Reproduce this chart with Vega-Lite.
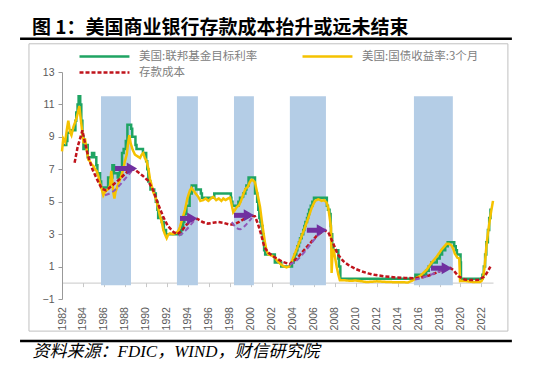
{
  "$schema": "https://vega.github.io/schema/vega-lite/v6.json",
  "width": 431,
  "height": 227,
  "autosize": {"type": "none"},
  "padding": {"left": 62, "top": 72, "right": 40, "bottom": 72},
  "background": "white",
  "title": {"text": "图 1：美国商业银行存款成本抬升或远未结束", "anchor": "start", "frame": "group", "dx": -30, "dy": 1, "fontSize": 19, "font": "Noto Sans CJK SC", "fontWeight": "bold", "color": "#000000", "offset": 1},
  "config": {"view": {"stroke": null}, "axis": {"labelOverlap": false}},
  "datasets": {
    "bands": [
      {"s": 1985.72, "e": 1988.58},
      {"s": 1992.96, "e": 1994.96},
      {"s": 1998.4, "e": 2000.3},
      {"s": 2003.73, "e": 2007.17},
      {"s": 2015.56, "e": 2019.27}
    ],
    "green": [
      {"t":1982.0,"v":8.5},{"t":1982.409,"v":8.75},{"t":1982.511,"v":9.25},{"t":1982.818,"v":9.4},{"t":1983.278,"v":10.0},{"t":1983.36,"v":10.5},{"t":1983.483,"v":11.0},{"t":1983.585,"v":11.5},{"t":1983.738,"v":11.0},{"t":1983.841,"v":10.0},{"t":1983.943,"v":9.0},{"t":1984.045,"v":8.25},{"t":1984.198,"v":8.5},{"t":1984.454,"v":7.75},{"t":1984.863,"v":8.0},{"t":1985.068,"v":7.75},{"t":1985.272,"v":7.25},{"t":1985.374,"v":6.75},{"t":1985.63,"v":6.25},{"t":1985.732,"v":5.875},{"t":1986.397,"v":6.5},{"t":1986.806,"v":7.25},{"t":1986.959,"v":6.75},{"t":1987.317,"v":6.5},{"t":1987.522,"v":7.0},{"t":1987.726,"v":8.0},{"t":1987.879,"v":8.25},{"t":1988.084,"v":8.75},{"t":1988.237,"v":9.75},{"t":1988.595,"v":9.5},{"t":1988.697,"v":9.0},{"t":1989.004,"v":8.5},{"t":1989.106,"v":8.25},{"t":1989.72,"v":8.0},{"t":1990.027,"v":7.5},{"t":1990.129,"v":7.0},{"t":1990.231,"v":6.25},{"t":1990.436,"v":5.75},{"t":1990.794,"v":5.5},{"t":1990.947,"v":5.0},{"t":1991.1,"v":4.5},{"t":1991.172,"v":4.0},{"t":1991.509,"v":3.75},{"t":1991.714,"v":3.25},{"t":1991.918,"v":3.0},{"t":1993.35,"v":3.25},{"t":1993.452,"v":3.5},{"t":1993.554,"v":3.75},{"t":1993.657,"v":4.25},{"t":1993.861,"v":4.75},{"t":1994.168,"v":5.5},{"t":1994.372,"v":6.0},{"t":1994.781,"v":5.75},{"t":1995.241,"v":5.5},{"t":1995.343,"v":5.25},{"t":1996.519,"v":5.5},{"t":1998.104,"v":5.25},{"t":1998.155,"v":5.0},{"t":1998.257,"v":4.75},{"t":1998.82,"v":5.0},{"t":1998.973,"v":5.25},{"t":1999.28,"v":5.5},{"t":1999.484,"v":5.75},{"t":1999.586,"v":6.0},{"t":1999.791,"v":6.5},{"t":2000.405,"v":5.5},{"t":2000.61,"v":5.0},{"t":2000.712,"v":4.5},{"t":2000.814,"v":4.0},{"t":2000.916,"v":3.75},{"t":2001.019,"v":3.5},{"t":2001.121,"v":3.0},{"t":2001.223,"v":2.5},{"t":2001.274,"v":2.0},{"t":2001.376,"v":1.75},{"t":2002.296,"v":1.25},{"t":2002.909,"v":1.0},{"t":2003.932,"v":1.25},{"t":2004.085,"v":1.5},{"t":2004.188,"v":1.75},{"t":2004.341,"v":2.0},{"t":2004.443,"v":2.25},{"t":2004.597,"v":2.5},{"t":2004.699,"v":2.75},{"t":2004.852,"v":3.0},{"t":2005.006,"v":3.25},{"t":2005.109,"v":3.5},{"t":2005.211,"v":3.75},{"t":2005.364,"v":4.0},{"t":2005.466,"v":4.25},{"t":2005.569,"v":4.5},{"t":2005.722,"v":4.75},{"t":2005.875,"v":5.0},{"t":2006.029,"v":5.25},{"t":2007.256,"v":4.75},{"t":2007.358,"v":4.5},{"t":2007.511,"v":4.25},{"t":2007.613,"v":3.5},{"t":2007.644,"v":3.0},{"t":2007.767,"v":2.25},{"t":2007.869,"v":2.0},{"t":2008.35,"v":1.5},{"t":2008.411,"v":1.0},{"t":2008.544,"v":0.25},{"t":2015.701,"v":0.5},{"t":2016.724,"v":0.75},{"t":2016.969,"v":1.0},{"t":2017.224,"v":1.25},{"t":2017.736,"v":1.5},{"t":2018.012,"v":1.75},{"t":2018.247,"v":2.0},{"t":2018.544,"v":2.25},{"t":2018.779,"v":2.5},{"t":2019.403,"v":2.25},{"t":2019.546,"v":2.0},{"t":2019.659,"v":1.75},{"t":2020.006,"v":1.25},{"t":2020.047,"v":0.25},{"t":2022.092,"v":0.5},{"t":2022.225,"v":1.0},{"t":2022.348,"v":1.75},{"t":2022.46,"v":2.5},{"t":2022.614,"v":3.25},{"t":2022.737,"v":4.0},{"t":2022.859,"v":4.5},{"t":2022.99,"v":4.5}
    ],
    "yellow": [
      {"t":1982.0,"v":8.1},{"t":1982.12,"v":8.9},{"t":1982.3,"v":8.7},{"t":1982.45,"v":9.4},{"t":1982.6,"v":10.0},{"t":1982.76,"v":9.3},{"t":1982.9,"v":9.1},{"t":1983.08,"v":9.6},{"t":1983.25,"v":9.9},{"t":1983.4,"v":10.2},{"t":1983.55,"v":10.6},{"t":1983.65,"v":10.9},{"t":1983.75,"v":10.3},{"t":1983.88,"v":9.6},{"t":1984.05,"v":8.6},{"t":1984.19,"v":8.9},{"t":1984.35,"v":8.2},{"t":1984.51,"v":7.6},{"t":1984.65,"v":7.5},{"t":1984.83,"v":7.3},{"t":1985.0,"v":7.2},{"t":1985.15,"v":7.0},{"t":1985.3,"v":6.9},{"t":1985.46,"v":6.6},{"t":1985.6,"v":6.2},{"t":1985.78,"v":5.8},{"t":1985.94,"v":5.4},{"t":1986.1,"v":5.6},{"t":1986.26,"v":5.7},{"t":1986.45,"v":5.8},{"t":1986.58,"v":6.0},{"t":1986.7,"v":6.9},{"t":1986.78,"v":6.4},{"t":1986.89,"v":5.6},{"t":1987.0,"v":5.2},{"t":1987.1,"v":5.6},{"t":1987.37,"v":6.1},{"t":1987.6,"v":6.5},{"t":1987.84,"v":7.0},{"t":1988.0,"v":7.5},{"t":1988.17,"v":7.9},{"t":1988.3,"v":8.6},{"t":1988.42,"v":9.1},{"t":1988.55,"v":8.6},{"t":1988.74,"v":8.2},{"t":1988.96,"v":7.9},{"t":1989.2,"v":7.8},{"t":1989.44,"v":7.7},{"t":1989.6,"v":7.9},{"t":1989.75,"v":8.0},{"t":1989.9,"v":7.7},{"t":1990.07,"v":7.5},{"t":1990.25,"v":7.0},{"t":1990.39,"v":6.4},{"t":1990.55,"v":6.0},{"t":1990.7,"v":5.6},{"t":1990.95,"v":5.2},{"t":1991.18,"v":4.6},{"t":1991.35,"v":4.1},{"t":1991.5,"v":3.8},{"t":1991.65,"v":3.3},{"t":1991.81,"v":3.0},{"t":1991.98,"v":2.75},{"t":1992.15,"v":3.0},{"t":1992.3,"v":3.05},{"t":1992.6,"v":3.0},{"t":1992.93,"v":3.1},{"t":1993.1,"v":3.2},{"t":1993.25,"v":3.45},{"t":1993.5,"v":4.0},{"t":1993.73,"v":4.5},{"t":1993.95,"v":5.2},{"t":1994.2,"v":5.7},{"t":1994.35,"v":5.85},{"t":1994.52,"v":5.7},{"t":1994.75,"v":5.5},{"t":1994.99,"v":5.3},{"t":1995.2,"v":5.05},{"t":1995.47,"v":5.1},{"t":1995.7,"v":5.2},{"t":1995.95,"v":5.05},{"t":1996.2,"v":5.2},{"t":1996.42,"v":5.3},{"t":1996.7,"v":5.1},{"t":1996.95,"v":5.2},{"t":1997.2,"v":5.05},{"t":1997.38,"v":5.2},{"t":1997.6,"v":5.1},{"t":1997.85,"v":5.2},{"t":1998.02,"v":5.25},{"t":1998.15,"v":4.9},{"t":1998.33,"v":4.35},{"t":1998.5,"v":4.5},{"t":1998.65,"v":4.65},{"t":1998.9,"v":4.8},{"t":1999.1,"v":5.1},{"t":1999.28,"v":5.45},{"t":1999.5,"v":5.8},{"t":1999.7,"v":5.9},{"t":1999.9,"v":6.2},{"t":2000.08,"v":6.35},{"t":2000.25,"v":6.3},{"t":2000.4,"v":6.2},{"t":2000.6,"v":5.6},{"t":2000.88,"v":4.7},{"t":2001.1,"v":3.6},{"t":2001.35,"v":2.5},{"t":2001.5,"v":2.0},{"t":2001.67,"v":1.75},{"t":2001.9,"v":1.7},{"t":2002.1,"v":1.65},{"t":2002.3,"v":1.55},{"t":2002.6,"v":1.3},{"t":2002.94,"v":1.1},{"t":2003.2,"v":1.0},{"t":2003.42,"v":0.95},{"t":2003.65,"v":1.0},{"t":2003.9,"v":1.3},{"t":2004.3,"v":1.95},{"t":2004.69,"v":2.6},{"t":2005.1,"v":3.3},{"t":2005.48,"v":4.0},{"t":2005.8,"v":4.6},{"t":2006.12,"v":5.05},{"t":2006.45,"v":5.15},{"t":2006.76,"v":5.05},{"t":2007.0,"v":5.1},{"t":2007.23,"v":4.95},{"t":2007.4,"v":4.6},{"t":2007.55,"v":3.9},{"t":2007.65,"v":3.4},{"t":2007.71,"v":0.6},{"t":2007.78,"v":1.6},{"t":2007.86,"v":2.1},{"t":2008.0,"v":1.7},{"t":2008.19,"v":1.0},{"t":2008.35,"v":0.5},{"t":2008.5,"v":0.15},{"t":2009.0,"v":0.15},{"t":2009.5,"v":0.12},{"t":2010.0,"v":0.14},{"t":2010.5,"v":0.1},{"t":2011.0,"v":0.05},{"t":2011.5,"v":0.06},{"t":2012.0,"v":0.09},{"t":2012.5,"v":0.07},{"t":2013.0,"v":0.05},{"t":2013.5,"v":0.04},{"t":2014.0,"v":0.03},{"t":2014.5,"v":0.03},{"t":2015.0,"v":0.02},{"t":2015.49,"v":0.16},{"t":2015.8,"v":0.3},{"t":2016.2,"v":0.45},{"t":2016.77,"v":0.8},{"t":2017.2,"v":1.2},{"t":2017.72,"v":1.6},{"t":2018.2,"v":2.05},{"t":2018.67,"v":2.4},{"t":2018.9,"v":2.4},{"t":2019.15,"v":2.3},{"t":2019.3,"v":2.1},{"t":2019.46,"v":1.8},{"t":2019.7,"v":1.55},{"t":2019.88,"v":1.5},{"t":2019.96,"v":0.1},{"t":2020.3,"v":0.12},{"t":2020.8,"v":0.08},{"t":2021.3,"v":0.04},{"t":2021.85,"v":0.05},{"t":2022.0,"v":0.1},{"t":2022.16,"v":0.3},{"t":2022.3,"v":1.0},{"t":2022.49,"v":2.4},{"t":2022.65,"v":3.2},{"t":2022.8,"v":3.9},{"t":2022.95,"v":4.5},{"t":2023.1,"v":5.05}
    ],
    "red": [
      {"t":1983.2,"v":7.4},{"t":1983.5,"v":8.4},{"t":1983.95,"v":9.4},{"t":1984.2,"v":8.6},{"t":1984.5,"v":7.8},{"t":1984.9,"v":7.0},{"t":1985.4,"v":6.3},{"t":1985.8,"v":5.8},{"t":1986.2,"v":5.7},{"t":1986.8,"v":6.0},{"t":1987.5,"v":6.4},{"t":1988.3,"v":6.9},{"t":1988.9,"v":7.0},{"t":1989.3,"v":6.8},{"t":1989.7,"v":6.6},{"t":1990.2,"v":6.3},{"t":1990.7,"v":5.7},{"t":1991.2,"v":4.8},{"t":1991.7,"v":4.0},{"t":1992.1,"v":3.5},{"t":1992.6,"v":3.15},{"t":1993.0,"v":3.0},{"t":1993.4,"v":3.2},{"t":1993.9,"v":3.6},{"t":1994.4,"v":3.85},{"t":1994.9,"v":3.95},{"t":1995.4,"v":3.75},{"t":1995.9,"v":3.65},{"t":1996.4,"v":3.7},{"t":1996.9,"v":3.75},{"t":1997.4,"v":3.7},{"t":1997.9,"v":3.6},{"t":1998.4,"v":3.6},{"t":1998.9,"v":3.75},{"t":1999.5,"v":4.0},{"t":2000.0,"v":4.15},{"t":2000.4,"v":4.1},{"t":2000.7,"v":3.6},{"t":2001.0,"v":2.95},{"t":2001.3,"v":2.2},{"t":2001.7,"v":1.85},{"t":2002.1,"v":1.65},{"t":2002.6,"v":1.45},{"t":2003.0,"v":1.3},{"t":2003.7,"v":1.15},{"t":2004.4,"v":1.5},{"t":2005.2,"v":2.1},{"t":2006.3,"v":2.9},{"t":2007.0,"v":3.25},{"t":2007.4,"v":3.1},{"t":2007.85,"v":2.45},{"t":2008.3,"v":1.75},{"t":2008.8,"v":1.35},{"t":2009.3,"v":1.1},{"t":2010.0,"v":0.85},{"t":2010.6,"v":0.7},{"t":2011.2,"v":0.58},{"t":2011.8,"v":0.49},{"t":2012.8,"v":0.39},{"t":2013.8,"v":0.33},{"t":2014.7,"v":0.3},{"t":2015.5,"v":0.28},{"t":2016.2,"v":0.32},{"t":2017.0,"v":0.45},{"t":2017.8,"v":0.65},{"t":2018.5,"v":0.85},{"t":2019.0,"v":0.92},{"t":2019.3,"v":0.8},{"t":2019.8,"v":0.4},{"t":2020.4,"v":0.2},{"t":2021.0,"v":0.17},{"t":2021.7,"v":0.18},{"t":2022.3,"v":0.39},{"t":2022.6,"v":0.7},{"t":2022.85,"v":1.0}
    ],
    "curves": [
      {"seg":"A","t":1986.1,"v":5.4},{"seg":"A","t":1986.8,"v":5.6},{"seg":"A","t":1987.4,"v":5.95},{"seg":"A","t":1988.0,"v":6.4},{"seg":"A","t":1988.6,"v":6.85},
      {"seg":"B","t":1993.15,"v":2.9},{"seg":"B","t":1993.6,"v":3.1},{"seg":"B","t":1993.9,"v":3.3},{"seg":"B","t":1994.3,"v":3.6},{"seg":"B","t":1994.7,"v":3.9},
      {"seg":"C","t":1998.2,"v":3.75},{"seg":"C","t":1998.6,"v":3.4},{"seg":"C","t":1999.0,"v":3.3},{"seg":"C","t":1999.5,"v":3.55},{"seg":"C","t":2000.1,"v":4.0},
      {"seg":"D","t":2003.7,"v":1.1},{"seg":"D","t":2004.5,"v":1.45},{"seg":"D","t":2005.2,"v":1.95},{"seg":"D","t":2005.8,"v":2.45},{"seg":"D","t":2006.3,"v":2.85},{"seg":"D","t":2006.8,"v":3.15},{"seg":"D","t":2007.2,"v":3.3},
      {"seg":"E","t":2015.65,"v":0.2},{"seg":"E","t":2016.4,"v":0.32},{"seg":"E","t":2017.2,"v":0.5},{"seg":"E","t":2018.0,"v":0.7},{"seg":"E","t":2018.8,"v":0.9}
    ],
    "arrows": [
      {"s": 1987.05, "h": 1988.67, "v": 7.05},
      {"s": 1993.25, "h": 1994.43, "v": 3.97},
      {"s": 1998.4, "h": 1999.83, "v": 4.16},
      {"s": 2005.35, "h": 2006.79, "v": 3.24},
      {"s": 2017.18, "h": 2018.7, "v": 0.9}
    ]
  },
  "layer": [
    {
      "data": {"name": "bands"},
      "mark": {"type": "rect", "color": "#b4cde6"},
      "encoding": {
        "x": {"field": "s", "type": "quantitative", "scale": {"domain": [1982, 2023.1], "nice": false, "zero": false},
          "axis": {"title": "资料来源：FDIC，WIND，财信研究院", "values": [1982,1984,1986,1988,1990,1992,1994,1996,1998,2000,2002,2004,2006,2008,2010,2012,2014,2016,2018,2020,2022], "tickCount": 40, "format": "d", "labelAngle": -90, "labelFontSize": 10.5, "labelFont": "Liberation Sans", "labelColor": "#595959", "labelPadding": 20, "tickSize": 4, "tickColor": "#c8c8c8", "domainColor": "#c8c8c8", "offset": -16.4, "grid": false, "labelFlush": false, "labelOverlap": false, "labelSeparation": 0, "titleAnchor": "start", "titleAlign": "left", "titleX": -30, "titleY": 74, "titleBaseline": "alphabetic", "titleFont": "Liberation Serif, Noto Sans CJK SC", "titleFontStyle": "italic", "titleFontWeight": "normal", "titleFontSize": 17, "titleColor": "#000000"}},
        "x2": {"field": "e"},
        "y": {"datum": 11.5, "type": "quantitative", "scale": {"domain": [-1, 13], "nice": false, "zero": false},
          "axis": {"title": null, "values": [-1,1,3,5,7,9,11,13], "tickCount": 20, "format": "d", "labelFontSize": 10.5, "labelFont": "Liberation Sans", "labelColor": "#595959", "tickSize": 4, "tickColor": "#999999", "domainColor": "#999999", "grid": false, "labelPadding": 4, "labelOverlap": false, "labelSeparation": 0}},
        "y2": {"datum": -0.15}
      }
    },
    {
      "data": {"name": "green"},
      "mark": {"type": "line", "interpolate": "step-after", "strokeWidth": 2.5},
      "encoding": {
        "x": {"field": "t", "type": "quantitative", "scale": {"domain": [1982, 2023.1], "nice": false, "zero": false}},
        "y": {"field": "v", "type": "quantitative", "scale": {"domain": [-1, 13], "nice": false, "zero": false}},
        "color": {"datum": "美国:联邦基金目标利率", "scale": {"domain": ["美国:联邦基金目标利率", "美国:国债收益率:3个月", "存款成本"], "range": ["#1fa463", "#f5c200", "#c0141c"]},
          "legend": {"title": null, "orient": "none", "legendX": 16, "legendY": -26, "direction": "horizontal", "columns": 2, "symbolType": "M-1,0H4.55", "symbolSize": 324, "symbolStrokeWidth": 2.5, "labelFontSize": 11.5, "labelFont": "Noto Sans CJK SC", "labelColor": "#808080", "columnPadding": 39, "rowPadding": 0, "labelLimit": 300, "labelOffset": 40}},
        "strokeDash": {"datum": "美国:联邦基金目标利率", "scale": {"domain": ["美国:联邦基金目标利率", "美国:国债收益率:3个月", "存款成本"], "range": [[1, 0], [1, 0], [4, 2]]},
          "legend": {"title": null, "orient": "none", "legendX": 16, "legendY": -26, "direction": "horizontal", "columns": 2, "symbolType": "M-1,0H4.55", "symbolSize": 324, "symbolStrokeWidth": 2.5, "labelFontSize": 11.5, "labelFont": "Noto Sans CJK SC", "labelColor": "#808080", "columnPadding": 39, "rowPadding": 0, "labelLimit": 300, "labelOffset": 40}}
      }
    },
    {
      "data": {"name": "yellow"},
      "mark": {"type": "line", "strokeWidth": 2.5},
      "encoding": {
        "x": {"field": "t", "type": "quantitative", "scale": {"domain": [1982, 2023.1], "nice": false, "zero": false}},
        "y": {"field": "v", "type": "quantitative", "scale": {"domain": [-1, 13], "nice": false, "zero": false}},
        "color": {"datum": "美国:国债收益率:3个月"},
        "strokeDash": {"datum": "美国:国债收益率:3个月"}
      }
    },
    {
      "data": {"name": "red"},
      "mark": {"type": "line", "strokeWidth": 2.5},
      "encoding": {
        "x": {"field": "t", "type": "quantitative", "scale": {"domain": [1982, 2023.1], "nice": false, "zero": false}},
        "y": {"field": "v", "type": "quantitative", "scale": {"domain": [-1, 13], "nice": false, "zero": false}},
        "color": {"datum": "存款成本"},
        "strokeDash": {"datum": "存款成本"}
      }
    },
    {
      "data": {"name": "curves"},
      "mark": {"type": "line", "strokeWidth": 2, "color": "#9257b8", "strokeDash": [5, 3], "interpolate": "monotone"},
      "encoding": {
        "x": {"field": "t", "type": "quantitative", "scale": {"domain": [1982, 2023.1], "nice": false, "zero": false}},
        "y": {"field": "v", "type": "quantitative", "scale": {"domain": [-1, 13], "nice": false, "zero": false}},
        "detail": {"field": "seg"}
      }
    },
    {
      "data": {"name": "arrows"},
      "mark": {"type": "rule", "strokeWidth": 5, "color": "#7030a0"},
      "encoding": {
        "x": {"field": "s", "type": "quantitative", "scale": {"domain": [1982, 2023.1], "nice": false, "zero": false}},
        "x2": {"field": "h"},
        "y": {"field": "v", "type": "quantitative", "scale": {"domain": [-1, 13], "nice": false, "zero": false}}
      }
    },
    {
      "data": {"name": "arrows"},
      "mark": {"type": "point", "shape": "triangle-right", "filled": true, "size": 144, "color": "#7030a0", "opacity": 1},
      "encoding": {
        "x": {"field": "h", "type": "quantitative", "scale": {"domain": [1982, 2023.1], "nice": false, "zero": false}},
        "y": {"field": "v", "type": "quantitative", "scale": {"domain": [-1, 13], "nice": false, "zero": false}}
      }
    },
    {
      "data": {"values": [{}]},
      "mark": {"type": "rect", "fillOpacity": 0, "stroke": "#c0c0c0", "strokeWidth": 1},
      "encoding": {
        "x": {"datum": 1978.85, "type": "quantitative", "scale": {"domain": [1982, 2023.1], "nice": false, "zero": false}},
        "x2": {"datum": 2024.52},
        "y": {"datum": 14.74, "type": "quantitative", "scale": {"domain": [-1, 13], "nice": false, "zero": false}},
        "y2": {"datum": -2.98}
      }
    },
    {
      "data": {"values": [{}]},
      "mark": {"type": "rule", "strokeWidth": 2.5, "color": "#000000"},
      "encoding": {
        "x": {"datum": 1978.0, "type": "quantitative", "scale": {"domain": [1982, 2023.1], "nice": false, "zero": false}},
        "x2": {"datum": 2024.9},
        "y": {"datum": 15.05, "type": "quantitative", "scale": {"domain": [-1, 13], "nice": false, "zero": false}}
      }
    },
    {
      "data": {"values": [{}]},
      "mark": {"type": "rule", "strokeWidth": 2.5, "color": "#000000"},
      "encoding": {
        "x": {"datum": 1978.0, "type": "quantitative", "scale": {"domain": [1982, 2023.1], "nice": false, "zero": false}},
        "x2": {"datum": 2024.9},
        "y": {"datum": -3.59, "type": "quantitative", "scale": {"domain": [-1, 13], "nice": false, "zero": false}}
      }
    }
  ]
}
